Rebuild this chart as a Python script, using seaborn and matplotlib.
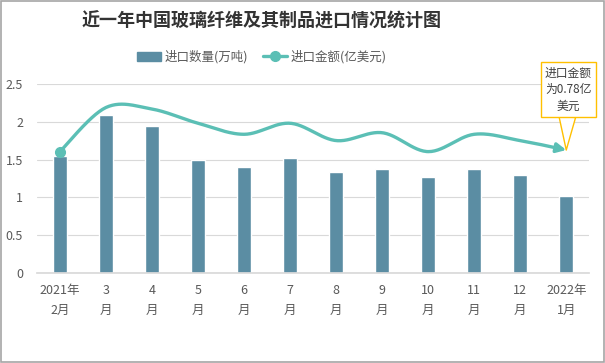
import numpy as np
import matplotlib
matplotlib.use('Agg')
import matplotlib.pyplot as plt
import seaborn as sns
from matplotlib.patches import Rectangle
from matplotlib.lines import Line2D
from matplotlib.patches import Patch

sns.set_theme(style='white')
plt.rcParams['font.family'] = ['Noto Sans CJK SC', 'DejaVu Sans']

# data
months = ['2021年\n2月', '3\n月', '4\n月', '5\n月', '6\n月', '7\n月',
          '8\n月', '9\n月', '10\n月', '11\n月', '12\n月', '2022年\n1月']
volume = [1.54, 2.09, 1.94, 1.50, 1.40, 1.52, 1.34, 1.38, 1.27, 1.38, 1.30, 1.02]  # 万吨
value = [0.77, 1.05, 1.04, 0.95, 0.88, 0.95, 0.84, 0.89, 0.77, 0.88, 0.84, 0.78]  # 亿美元

bar_col = '#5B8DA3'
line_col = '#5BBFB5'
txt_col = '#404040'


def smooth(xs, ys, n=30):
    # catmull-rom curve, like excel's smoothed line
    pts = np.column_stack([xs, ys]).astype(float)
    pts = np.vstack([pts[0], pts, pts[-1]])
    out = []
    for i in range(1, len(pts) - 2):
        p0, p1, p2, p3 = pts[i - 1], pts[i], pts[i + 1], pts[i + 2]
        t = np.linspace(0, 1, n)[:, None]
        seg = 0.5 * ((2 * p1) + (-p0 + p2) * t + (2 * p0 - 5 * p1 + 4 * p2 - p3) * t ** 2
                     + (-p0 + 3 * p1 - 3 * p2 + p3) * t ** 3)
        out.append(seg if i == 1 else seg[1:])
    out = np.vstack(out)
    return out[:, 0], out[:, 1]


fig = plt.figure(figsize=(6.05, 3.63), dpi=100)
ax = fig.add_axes([0.061, 0.248, 0.913, 0.521])

x = np.arange(len(months))
sns.barplot(x=x, y=volume, color=bar_col, width=0.3, saturation=1, ax=ax)
ax.set_ylim(0, 2.5)
ax.set_xlim(-0.5, len(months) - 0.5)
ax.set_yticks([0, 0.5, 1, 1.5, 2, 2.5])
ax.set_yticklabels(['0', '0.5', '1', '1.5', '2', '2.5'])
ax.set_xticks(x)
ax.set_xticklabels(months, linespacing=1.7)
ax.tick_params(axis='both', labelsize=9, colors='#595959', length=0, pad=8)
ax.tick_params(axis='y', pad=10)
ax.grid(axis='y', color='#D9D9D9', lw=0.8)
ax.set_axisbelow(True)
for s in ['top', 'right', 'left']:
    ax.spines[s].set_visible(False)
ax.spines['bottom'].set_color('#D9D9D9')

# value line on a hidden secondary axis
ax2 = ax.twinx()
ax2.set_ylim(0, 1.2)
ax2.axis('off')
sx, sy = smooth(x, value)
ax2.plot(sx[:-4], sy[:-4], color=line_col, lw=2.4, solid_capstyle='butt')
ax2.plot(x[0], value[0], 'o', color=line_col, ms=7)
ax2.annotate('', xy=(sx[-1], sy[-1]), xytext=(sx[-6], sy[-6]),
             arrowprops=dict(arrowstyle='-|>', color=line_col, lw=2.4,
                             mutation_scale=14, shrinkA=0, shrinkB=0))

# callout
ax2.annotate('进口金额\n为0.78亿\n美元', xy=(x[-1], value[-1]), xycoords='data',
             xytext=(0.962, 0.97), textcoords='axes fraction',
             ha='center', va='center', fontsize=8.5, color=txt_col, linespacing=1.35,
             bbox=dict(boxstyle='square,pad=0.35', fc='white', ec='#FFC000', lw=1),
             arrowprops=dict(arrowstyle='wedge,tail_width=1.4', fc='white', ec='#FFC000',
                             lw=1, shrinkA=0, shrinkB=0),
             annotation_clip=False, zorder=10)

fig.text(0.432, 0.943, '近一年中国玻璃纤维及其制品进口情况统计图', ha='center', va='center',
         fontsize=13, fontweight='bold', color='#333333')

handles = [Patch(color=bar_col),
           Line2D([], [], color=line_col, lw=2.4, marker='o', ms=7, markevery=[0])]
fig.legend(handles, ['进口数量(万吨)', '进口金额(亿美元)'], loc='center',
           bbox_to_anchor=(0.433, 0.843), ncol=2, frameon=False, fontsize=9,
           labelcolor='#595959', handlelength=1.9, handleheight=0.8, columnspacing=1.2,
           handletextpad=0.3)

fig.add_artist(Rectangle((0.002, 0.003), 0.996, 0.994, transform=fig.transFigure,
                         fill=False, ec='#A6A6A6', lw=1.2))

fig.savefig('out.png', dpi=100, facecolor='white')
